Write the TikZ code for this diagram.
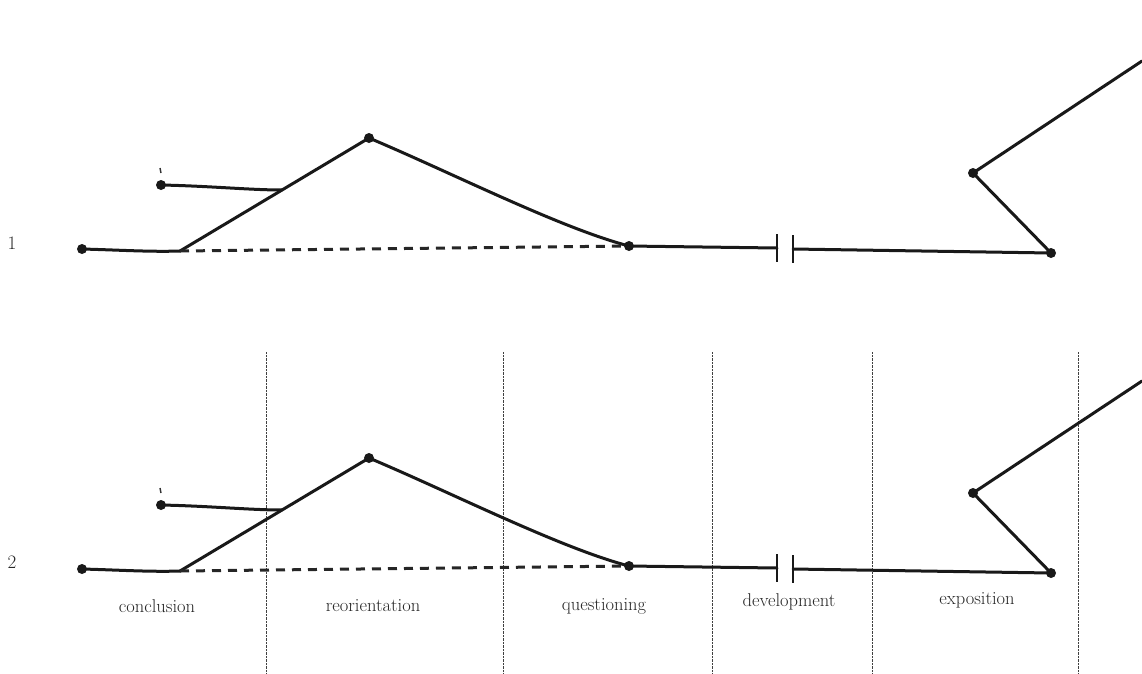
\documentclass[tikz,border=0pt]{standalone}
\usetikzlibrary{calc}
\begin{document}
\begin{tikzpicture}[x=1pt,y=-1pt,
  ln/.style={line width=3pt,line cap=round,line join=round,black!90},
  dsh/.style={line width=3pt,black!85,dash pattern=on 9pt off 7pt},
  dotpt/.style={circle,fill=black!90,inner sep=0pt,minimum size=10pt},
  bar/.style={line width=2.4pt,black!90},
  sep/.style={line width=0.7pt,black!75,dash pattern=on 0.7pt off 0.7pt},
  lab/.style={font=\fontsize{18.5}{20}\selectfont,text=black!85,inner sep=0pt},
  num/.style={font=\fontsize{19}{20}\selectfont,text=black!85,inner sep=0pt}]
\useasboundingbox (0,0) rectangle (1142,673);
% separators (under diagram 2)
\foreach \x/\n in {266/s1,503/s2,712/s3,872/s4,1078/s5}{
  \coordinate (\n t) at (\x,352);
  \coordinate (\n b) at (\x,673);
  \draw[sep] (\n t) -- (\n b);
}
% two diagrams
\foreach \d/\dy in {one/0,two/320}{
  \begin{scope}[yshift=-\dy pt]
  \node[dotpt] (\d A) at (82,249) {};
  \coordinate (\d B) at (180,251);
  \node[dotpt] (\d P) at (369,138) {};
  \node[dotpt] (\d U) at (161,185) {};
  \coordinate (\d J) at ($(\d B)!0.54!(\d P)$);
  \node[dotpt] (\d Q) at (629,246) {};
  \coordinate (\d G1) at (777,248);
  \coordinate (\d G2) at (793,249);
  \node[dotpt] (\d R) at (1051,253) {};
  \node[dotpt] (\d S) at (973,173) {};
  \coordinate (\d E) at (1142,61);
  \draw[ln] (\d A.center) .. controls (120,250) and (150,252) .. (\d B);
  \draw[ln] (\d B) -- (\d P.center) .. controls (450,172) and (560,228) .. (\d Q.center);
  \draw[ln] (\d U.center) .. controls (210,186) and (250,190) .. (\d J);
  \draw[dsh] (\d B) -- (\d Q.center);
  \draw[ln] (\d Q.center) -- (\d G1);
  \draw[bar] ($(\d G1)+(0,-14)$) -- ($(\d G1)+(0,14)$);
  \draw[bar] ($(\d G2)+(0,-14)$) -- ($(\d G2)+(0,14)$);
  \draw[ln] (\d G2) -- (\d R.center) -- (\d S.center) -- (\d E);
  \draw[line width=1.4pt,black!80] (160,168) -- (161,173);
  \end{scope}
}
\node[num] (n1) at (12,243) {1};
\node[num] (n2) at (12,562) {2};
\node[lab] (l1) at (157,606) {conclusion};
\node[lab] (l2) at (373,606) {reorientation};
\node[lab] (l3) at (604,606) {questioning};
\node[lab] (l4) at (789,602) {development};
\node[lab] (l5) at (977,600) {exposition};
\end{tikzpicture}
\end{document}
